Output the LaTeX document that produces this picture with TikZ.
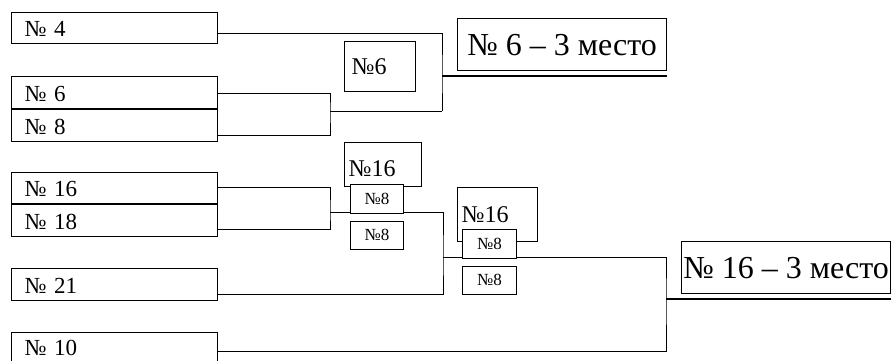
\documentclass[tikz,border=0pt]{standalone}
\usepackage{fontspec}
\setmainfont{Liberation Serif}
\usetikzlibrary{positioning}
\newcommand{\fsz}[1]{\fontsize{#1}{#1}\selectfont}
\tikzset{
  entry/.style={draw, line width=1.2pt, anchor=north west, minimum width=206pt,
    minimum height=32pt, inner xsep=13pt, inner ysep=0pt, text width=180pt, align=left,
    text height=19pt, text depth=2pt, font=\fsz{23}},
  pick/.style={draw, line width=1.2pt, anchor=north west, inner xsep=4pt, inner ysep=0pt,
    align=left, font=\fsz{24}},
  tiny/.style={draw, line width=0.8pt, fill=white, anchor=north west, minimum width=53pt,
    minimum height=28pt, inner sep=0pt, font=\fsz{17}},
  place/.style={draw, line width=1.2pt, anchor=north west, minimum width=209pt,
    minimum height=52pt, inner sep=0pt, font=\fsz{32}},
  link/.style={line width=1pt},
  final/.style={line width=1.5pt}
}
\begin{document}
\begin{tikzpicture}[x=1pt,y=-1pt]
\useasboundingbox (0,0) rectangle (891,360);
% teams
\node[entry, minimum height=31pt] (n4) at (11,12) {№ 4};
\node[entry] (n6) at (11,76) {№ 6};
\node[entry, below=0pt of n6.south west, anchor=north west] (n8) {№ 8};
\node[entry, minimum height=31pt] (n16) at (11,172) {№ 16};
\node[entry, below=0pt of n16.south west, anchor=north west] (n18) {№ 18};
\node[entry] (n21) at (11,268) {№ 21};
\node[entry, text height=16pt] (n10) at (11,332) {№ 10};
% winners
\node[pick, minimum width=71pt, minimum height=50pt, text width=57pt, inner xsep=7pt] (w6) at (344,41) {№6};
\node[pick, minimum width=77pt, minimum height=44pt, text width=69pt, text height=26pt, text depth=2pt] (w16a) at (344,142) {№16};
\node[pick, minimum width=80pt, minimum height=54pt, text width=72pt] (w16b) at (457,187) {№16};
% places
\node[place] (r6) at (457,18) {№ 6 – 3 место\hspace{9pt}};
\node[place] (r16) at (681,241) {№ 16 – 3 место};
% bracket lines
\coordinate (q1) at (330,111);
\coordinate (s1) at (442,76);
\draw[link] (n6.east |- 0,93) -| (q1) |- (n8.east |- 0,135);
\draw[link] (q1) -- (q1 -| s1);
\draw[link] (n4.east |- 0,33) -| (s1) -- (s1 |- q1);
\draw[final] (s1) -- (s1 -| r6.east);
\coordinate (q2) at (330,212);
\coordinate (s2) at (443,257);
\coordinate (u) at (666,299);
\draw[link] (n16.east |- 0,187) -| (q2) |- (n18.east |- 0,229);
\draw[link] (q2) -| (s2) |- (n21.east |- 0,294);
\draw[link] (s2) -| (u) |- (n10.east |- 0,351);
\draw[final] (u) -- (u -| r16.east);
% scores
\node[tiny, minimum height=29pt] (t1) at (350,184) {№8};
\node[tiny] (t2) at (350,221) {№8};
\node[tiny, minimum width=54pt, minimum height=29pt] (t3) at (462,229) {№8};
\node[tiny, minimum width=54pt] (t4) at (462,266) {№8};
\end{tikzpicture}
\end{document}
